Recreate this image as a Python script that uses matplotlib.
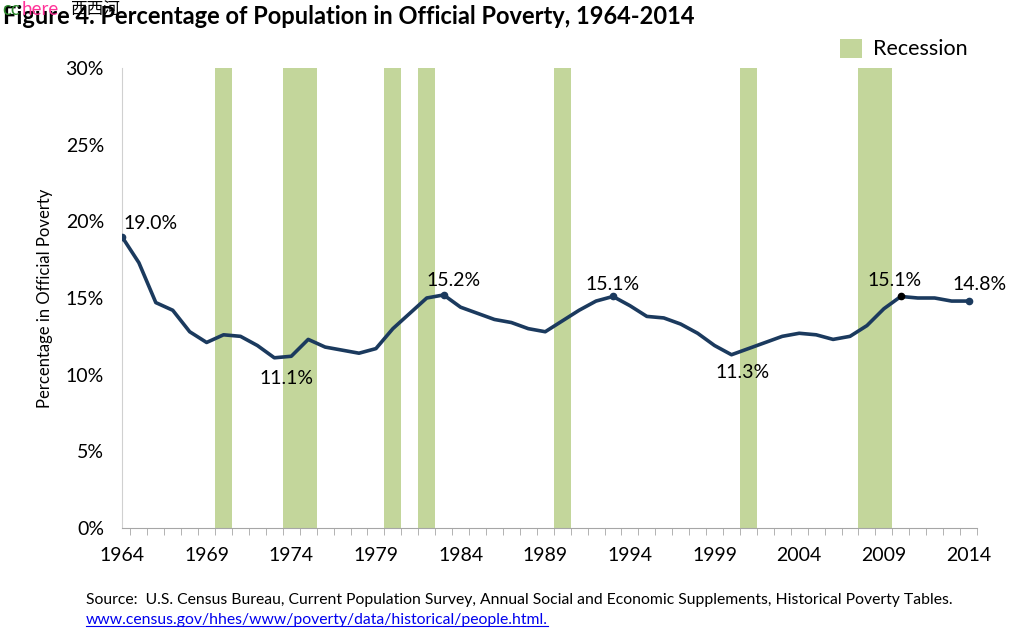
import matplotlib.pyplot as plt
import numpy as np
from matplotlib.patches import Rectangle
from matplotlib.ticker import FixedLocator, FuncFormatter

years = np.arange(1964, 2015)
poverty = [19.0, 17.3, 14.7, 14.2, 12.8, 12.1, 12.6, 12.5, 11.9, 11.1,
           11.2, 12.3, 11.8, 11.6, 11.4, 11.7, 13.0, 14.0, 15.0, 15.2,
           14.4, 14.0, 13.6, 13.4, 13.0, 12.8, 13.5, 14.2, 14.8, 15.1,
           14.5, 13.8, 13.7, 13.3, 12.7, 11.9, 11.3, 11.7, 12.1, 12.5,
           12.7, 12.6, 12.3, 12.5, 13.2, 14.3, 15.1, 15.0, 15.0, 14.8,
           14.8]

# recession periods (start, end) on the year axis
recessions = [(1969.5, 1970.5), (1973.5, 1975.5), (1979.5, 1980.5),
              (1981.5, 1982.5), (1989.5, 1990.5), (2000.5, 2001.5),
              (2007.5, 2009.5)]

# labelled points: year, text, offset in pixels
labels = [(1964, "19.0%", (29, 13)), (1973, "11.1%", (12, -21)),
          (1983, "15.2%", (10, 14)), (1993, "15.1%", (0, 12)),
          (2000, "11.3%", (11, -18)), (2010, "15.1%", (-6, 16)),
          (2014, "14.8%", (11, 17))]

plt.rcParams['font.family'] = ['Lato', 'DejaVu Sans']

navy = '#1b3a5e'
green = '#c3d69b'

fig = plt.figure(figsize=(10.24, 6.4), dpi=100)
ax = fig.add_axes([0.1191, 0.175, 0.835, 0.71875])

for start, end in recessions:
    ax.axvspan(start, end, color=green, lw=0, zorder=1)

ax.plot(years, poverty, color=navy, lw=2.6, zorder=3, solid_capstyle='round')
for yr in [1964, 1983, 1993, 2014]:
    ax.plot(yr, poverty[yr - 1964], 'o', color=navy, ms=4.5, zorder=4)
ax.plot(2010, poverty[2010 - 1964], 'o', color='black', ms=4.5, zorder=4)

for yr, txt, off in labels:
    ax.annotate(txt, (yr, poverty[yr - 1964]), xytext=off,
                textcoords='offset pixels', ha='center', va='center',
                fontsize=14, color='black', zorder=5, annotation_clip=False)

ax.set_xlim(1964, 2014.5)
ax.set_ylim(0, 30)
ax.set_yticks(np.arange(0, 31, 5))
ax.yaxis.set_major_formatter(FuncFormatter(lambda v, p: f"{v:.0f}%"))
ax.set_xticks(np.arange(1964, 2015, 5))
ax.xaxis.set_minor_locator(FixedLocator(np.arange(1964.5, 2015, 1)))
ax.tick_params(axis='x', which='major', length=0, pad=14, labelsize=14)
ax.tick_params(axis='x', which='minor', length=5, color='#a6a6a6', direction='out')
ax.tick_params(axis='y', length=0, pad=13, labelsize=14)

for side in ['top', 'right']:
    ax.spines[side].set_visible(False)
ax.spines['left'].set_color('#d0d0d0')
ax.spines['bottom'].set_color('#a6a6a6')

ax.set_ylabel("Percentage in Official Poverty", fontsize=12, labelpad=9)

# legend drawn by hand
fig.add_artist(Rectangle((0.8203, 0.9094), 0.0215, 0.0297, color=green, lw=0,
                         transform=fig.transFigure))
fig.text(0.8525, 0.9234, "Recession", fontsize=15.5, va='center', ha='left')

fig.text(0.003, 0.974, "Figure 4. Percentage of Population in Official Poverty, 1964-2014",
         fontsize=17, fontweight='bold', va='center', ha='left')
# watermark over the title, as in the source image
fig.text(0.002, 0.985, "cc", color='#2e8b2e', fontsize=13.5, va='center')
fig.text(0.021, 0.985, "here", color='#ff3399', fontsize=13.5, va='center')
fig.text(0.068, 0.985, "西西河", color='black', fontsize=12, va='center',
         family=['Noto Sans CJK SC', 'DejaVu Sans'])

fig.text(0.084, 0.0625, "Source:  U.S. Census Bureau, Current Population Survey, Annual Social and "
         "Economic Supplements, Historical Poverty Tables.", fontsize=11.35, va='center')
link = fig.text(0.084, 0.031, "www.census.gov/hhes/www/poverty/data/historical/people.html.",
                fontsize=11.35, va='center', color='#0000ee')
fig.canvas.draw()
bb = link.get_window_extent().transformed(fig.transFigure.inverted())
fig.add_artist(plt.Line2D([bb.x0, bb.x1], [bb.y0 + 0.002, bb.y0 + 0.002], color='#0000ee',
                          lw=0.8, transform=fig.transFigure))

fig.savefig("out.png", dpi=100)
